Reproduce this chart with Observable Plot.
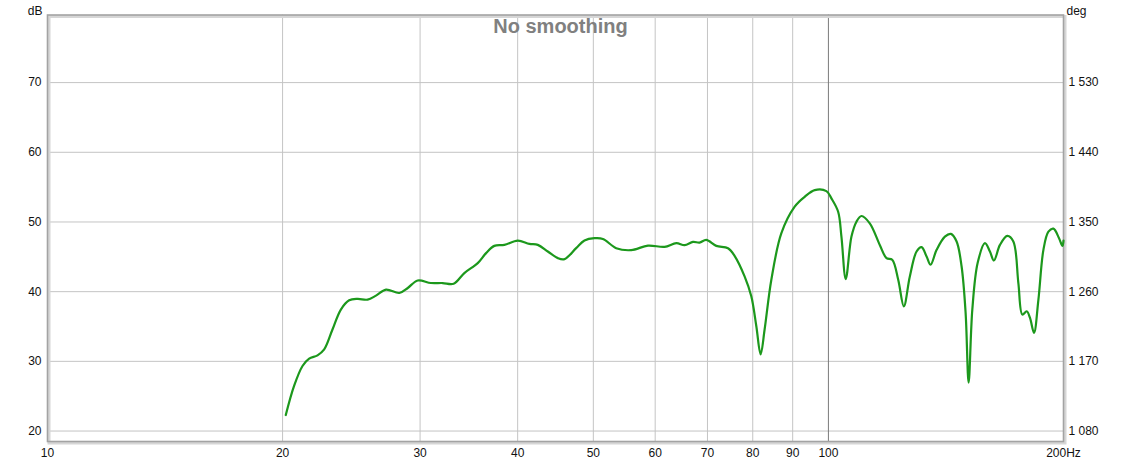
<!DOCTYPE html>
<html><head><meta charset="utf-8">
<script src="https://cdn.jsdelivr.net/npm/d3@7"></script>
<script src="https://cdn.jsdelivr.net/npm/@observablehq/plot@0.6"></script>
<style>html,body{margin:0;padding:0;background:#fff;} svg{display:block}</style>
</head><body><div id="chart"></div>
<script>
const freq = [20.19,20.69,21.21,21.63,22.17,22.61,23.17,23.75,24.34,24.95,25.70,26.34,27.13,28.22,28.93,29.79,30.97,32.06,33.12,34.18,35.56,36.44,37.34,38.46,40.01,41.41,42.45,43.72,45.03,45.92,47.53,48.71,50.17,51.43,53.49,55.91,58.74,61.69,63.86,65.44,67.08,68.39,69.76,71.85,74.37,75.83,78.10,79.66,80.85,81.88,82.85,84.51,87.05,90.53,93.24,96.04,99.41,100.89,102.91,103.91,105.24,107.03,108.62,110.23,112.97,116.35,118.68,120.69,122.85,124.90,127.13,129.68,131.61,133.57,135.15,137.57,140.98,143.50,145.93,148.10,149.86,151.19,152.85,155.26,158.64,161.00,162.91,165.82,169.48,172.51,175.08,177.16,179.43,181.19,183.34,185.74,188.50,191.30,194.15,197.39,199.39,200];
const spl = [22.3,26.47,29.33,30.39,30.86,31.71,34.57,37.43,38.76,38.96,38.86,39.43,40.29,39.81,40.53,41.61,41.24,41.24,41.14,42.67,44.10,45.53,46.57,46.71,47.33,46.86,46.71,45.76,44.81,44.67,46.24,47.33,47.67,47.57,46.24,45.96,46.61,46.43,46.96,46.67,47.14,47.04,47.43,46.57,46.24,45.14,42.19,39.33,35.04,31.0,34.57,41.71,48.39,52.19,53.61,54.57,54.43,53.39,51.47,47.90,41.81,47.90,50.04,50.86,49.81,46.71,44.81,44.57,41.71,37.90,42.19,45.76,46.39,45.04,43.86,46.0,47.90,48.29,47.19,43.61,36.96,26.96,37.43,44.10,46.96,45.76,44.47,46.71,48.0,47.19,41.24,36.71,37.19,36.24,34.10,38.86,46.0,48.61,49.04,47.67,46.57,47.33];
const xTicks = [10,20,30,40,50,60,70,80,90,100,200];
const xTickLabels = ["10","20","30","40","50","60","70","80","90","100","200Hz"];
const dbTicks = [20,30,40,50,60,70];
const degTickLabels = ["1 080","1 170","1 260","1 350","1 440","1 530"];
const title = "No smoothing";
const leftUnit = "dB";
const rightUnit = "deg";

const data = freq.map((f, i) => ({f, db: spl[i]}));
const gridFreqs = xTicks.filter(t => t > 10 && t < 200 && t !== 100);

const chart = Plot.plot({
  width: 1121, height: 463,
  marginLeft: 47, marginRight: 58, marginTop: 14.5, marginBottom: 22,
  style: {fontFamily: "'Liberation Sans', Arial, sans-serif", fontSize: "12px", color: "#111", background: "#fff", overflow: "visible"},
  x: {type: "log", domain: [10, 200]},
  y: {domain: [18.5, 79.7]},
  marks: [
    Plot.gridX(gridFreqs, {stroke: "#c4c4c4", strokeOpacity: 1}),
    Plot.gridY(dbTicks, {stroke: "#c4c4c4", strokeOpacity: 1}),
    Plot.ruleX([100], {stroke: "#7a7a7a", strokeWidth: 1}),
    Plot.frame({stroke: "#d6d6d6", strokeWidth: 3, dx: 1.5, dy: 1.5}),
    Plot.frame({stroke: "#a3a3a3", strokeWidth: 1.6}),
    Plot.axisX(xTicks, {tickSize: 0, tickPadding: 7, tickFormat: d => xTickLabels[xTicks.indexOf(d)], label: null, fill: "#111"}),
    Plot.axisY(dbTicks, {anchor: "left", tickSize: 0, tickPadding: 6, tickFormat: d => String(d), label: null, fill: "#111"}),
    Plot.axisY(dbTicks, {anchor: "right", tickSize: 0, tickPadding: 5, tickFormat: d => degTickLabels[dbTicks.indexOf(d)], label: null, fill: "#111"}),
    Plot.text([leftUnit], {frameAnchor: "top-left", text: d => d, dx: -5, dy: -8.5, textAnchor: "end", fill: "#111"}),
    Plot.text([rightUnit], {frameAnchor: "top-right", text: d => d, dx: 3, dy: -8.5, textAnchor: "start", fill: "#111"}),
    Plot.text([title], {frameAnchor: "top", text: d => d, dx: 5, dy: 3.5, fontSize: 20, fontWeight: "bold", fill: "#808080"}),
    Plot.line(data, {x: "f", y: "db", stroke: "#1c981c", strokeWidth: 2.2, curve: "catmull-rom"})
  ]
});
document.getElementById("chart").appendChild(chart);
</script>
</body></html>
